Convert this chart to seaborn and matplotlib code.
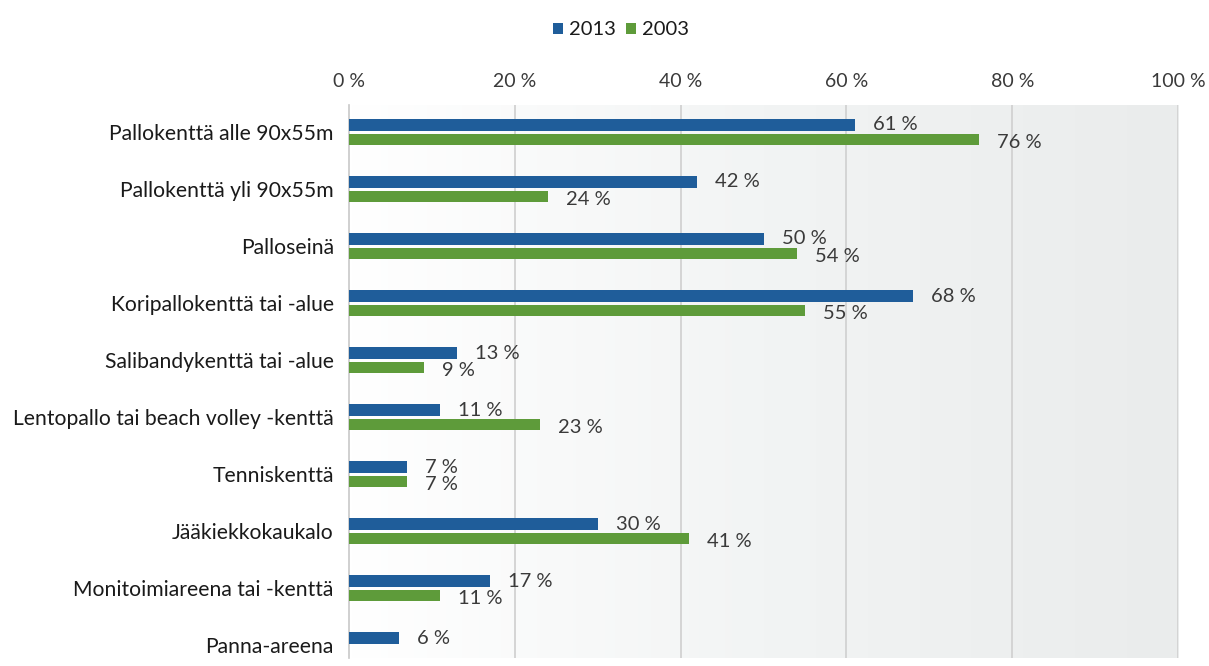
import numpy as np
import pandas as pd
import matplotlib
matplotlib.use("Agg")
import matplotlib.pyplot as plt
from matplotlib.colors import LinearSegmentedColormap
import seaborn as sns

categories = [
    "Pallokenttä alle 90x55m",
    "Pallokenttä yli 90x55m",
    "Palloseinä",
    "Koripallokenttä tai -alue",
    "Salibandykenttä tai -alue",
    "Lentopallo tai beach volley -kenttä",
    "Tenniskenttä",
    "Jääkiekkokaukalo",
    "Monitoimiareena tai -kenttä",
    "Panna-areena",
]
values_2013 = [61, 42, 50, 68, 13, 11, 7, 30, 17, 6]
values_2003 = [76, 24, 54, 55, 9, 23, 7, 41, 11, None]
years = ["2013", "2003"]
x_ticks = [0, 20, 40, 60, 80, 100]

rows = []
for cat, v13, v03 in zip(categories, values_2013, values_2003):
    rows.append({"kohde": cat, "vuosi": "2013", "osuus": v13})
    if v03 is not None:
        rows.append({"kohde": cat, "vuosi": "2003", "osuus": v03})
df = pd.DataFrame(rows)

sns.set_theme(style="white")
plt.rcParams["font.family"] = ["Lato", "DejaVu Sans"]
text_color = "#3a3a3a"

fig = plt.figure(figsize=(12.09, 6.66), dpi=100)
ax = fig.add_axes([0.2887, 0.012, 0.6857, 0.8303])

palette = {"2013": "#1f5d9a", "2003": "#5e9b3a"}
sns.barplot(data=df, y="kohde", x="osuus", hue="vuosi", order=categories,
            hue_order=years, palette=palette, orient="h", width=0.52,
            gap=0.25, saturation=1, linewidth=0, ax=ax, zorder=3, legend=True)

# soft grey gradient behind the plot area
grad = LinearSegmentedColormap.from_list("bg", ["#ffffff", "#f2f4f4", "#eaecec"])
ax.imshow(np.linspace(0, 1, 256).reshape(1, -1), cmap=grad, aspect="auto",
          extent=[0, 100, 9.22, -0.48], zorder=0)
ax.set_xlim(0, 100)
ax.set_ylim(9.22, -0.48)

# value labels
for cont, year in zip(ax.containers, years):
    dy = 0 if year == "2013" else -2
    for patch in cont.patches:
        w = patch.get_width()
        if np.isnan(w):
            continue
        yc = patch.get_y() + patch.get_height() / 2
        ax.annotate(f"{w:.0f} %", xy=(w, yc), xytext=(13, dy),
                    textcoords="offset points", ha="left", va="center",
                    fontsize=14.5, color=text_color, zorder=4)

ax.xaxis.tick_top()
ax.set_xticks(x_ticks)
ax.set_xticklabels([f"{t} %" for t in x_ticks])
ax.tick_params(axis="x", length=0, pad=11, labelsize=14, labelcolor=text_color)
ax.tick_params(axis="y", length=0, pad=11, labelsize=15.2, labelcolor="#1a1a1a")
ax.set_xlabel("")
ax.set_ylabel("")
for t in x_ticks[1:]:
    ax.axvline(t, color="#d2d2d2", lw=1.3, zorder=1)
for s in ["top", "right", "bottom"]:
    ax.spines[s].set_visible(False)
ax.spines["left"].set_color("#c8c8c8")
ax.spines["left"].set_linewidth(1.2)

handles, labels = ax.get_legend_handles_labels()
ax.legend_.remove()
fig.legend(handles, labels, loc="center", bbox_to_anchor=(0.5135, 0.955),
           ncol=2, frameon=False, fontsize=14.5, handlelength=0.5,
           handleheight=0.5, handletextpad=0.3, columnspacing=0.5,
           labelcolor="#1a1a1a")

fig.savefig("out.png", dpi=100)
